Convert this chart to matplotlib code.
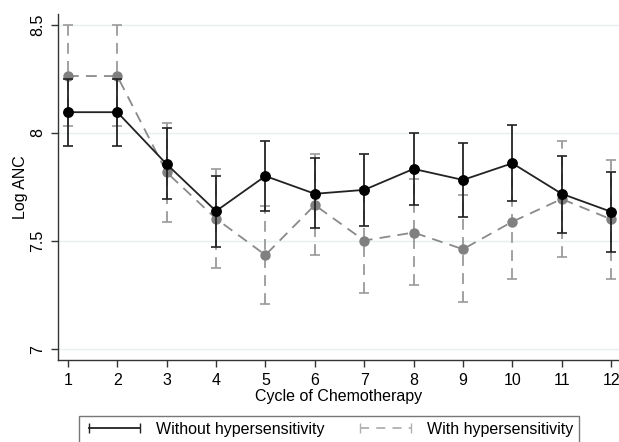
import matplotlib
matplotlib.use("Agg")
import numpy as np
import matplotlib.pyplot as plt
from matplotlib.lines import Line2D

plt.rcParams["font.family"] = ["Liberation Sans", "DejaVu Sans"]

cycles = np.arange(1, 13)

# Without hypersensitivity: mean log ANC and CI bounds
without_mean = [8.095, 8.095, 7.855, 7.638, 7.800, 7.718, 7.736, 7.833, 7.782, 7.859, 7.718, 7.635]
without_lo = [7.940, 7.940, 7.693, 7.473, 7.640, 7.558, 7.571, 7.666, 7.612, 7.686, 7.537, 7.451]
without_hi = [8.250, 8.250, 8.020, 7.800, 7.961, 7.885, 7.902, 8.000, 7.954, 8.034, 7.894, 7.819]

# With hypersensitivity
with_mean = [8.262, 8.262, 7.817, 7.603, 7.435, 7.666, 7.502, 7.539, 7.462, 7.589, 7.694, 7.600]
with_lo = [8.030, 8.030, 7.589, 7.373, 7.207, 7.436, 7.258, 7.298, 7.217, 7.326, 7.424, 7.324]
with_hi = [8.500, 8.500, 8.045, 7.833, 7.663, 7.902, 7.746, 7.786, 7.713, 7.852, 7.961, 7.874]

y_ticks = [7, 7.5, 8, 8.5]
y_ticklabels = ["7", "7.5", "8", "8.5"]

fig = plt.figure(figsize=(6.19, 4.42), dpi=100)
ax = fig.add_axes([0.0937, 0.1855, 0.9063, 0.7825])

for y in y_ticks:
    ax.axhline(y, color="#e6f0f0", linewidth=1.0, zorder=0)

# gray series (dashed, drawn underneath)
wm = np.array(with_mean)
err_w = [wm - np.array(with_lo), np.array(with_hi) - wm]
eb = ax.errorbar(cycles, wm, yerr=err_w, color="#8a8a8a", ecolor="#9a9a9a",
                 linestyle=(0, (6, 4)), linewidth=1.3, elinewidth=1.3,
                 capsize=3.5, capthick=1.2, marker="o", markersize=6.5,
                 markerfacecolor="#808080", markeredgecolor="#808080", zorder=2)
for coll in eb[2]:
    coll.set_linestyle((0, (6, 4)))

# black series
bm = np.array(without_mean)
err_b = [bm - np.array(without_lo), np.array(without_hi) - bm]
ax.errorbar(cycles, bm, yerr=err_b, color="#222222", ecolor="#222222",
            linestyle="-", linewidth=1.3, elinewidth=1.3,
            capsize=3.5, capthick=1.2, marker="o", markersize=6.8,
            markerfacecolor="black", markeredgecolor="black", zorder=3)

ax.set_xlim(0.8, 12.16)
ax.set_ylim(6.95, 8.548)
ax.set_xticks(cycles)
ax.set_xticklabels([str(c) for c in cycles], fontsize=11.5)
ax.set_yticks(y_ticks)
ax.set_yticklabels(y_ticklabels, fontsize=11.5, rotation=90, va="center")
ax.tick_params(direction="out", length=5, width=1, color="#333333", pad=4)

for side in ["top", "right"]:
    ax.spines[side].set_visible(False)
for side in ["left", "bottom"]:
    ax.spines[side].set_color("#333333")
    ax.spines[side].set_linewidth(1.0)

ax.set_xlabel("Cycle of Chemotherapy", fontsize=11.5, labelpad=1)
ax.set_ylabel("Log ANC", fontsize=11.5, labelpad=2)

handles = [
    Line2D([], [], color="#222222", linewidth=1.3, marker="|", markersize=7),
    Line2D([], [], color="#b0b0b0", linewidth=1.3, linestyle=(0, (5, 4)),
           marker="|", markersize=7),
]
labels = ["Without hypersensitivity", "With hypersensitivity"]
fig.legend(handles, labels, loc="lower center", bbox_to_anchor=(0.531, -0.012),
           ncol=2, numpoints=2, fontsize=11.5, frameon=True, fancybox=False,
           edgecolor="#555555", handlelength=3.8, columnspacing=1.9,
           borderpad=0.35, handletextpad=0.7, borderaxespad=0.3)

fig.savefig("out.png", dpi=100)
